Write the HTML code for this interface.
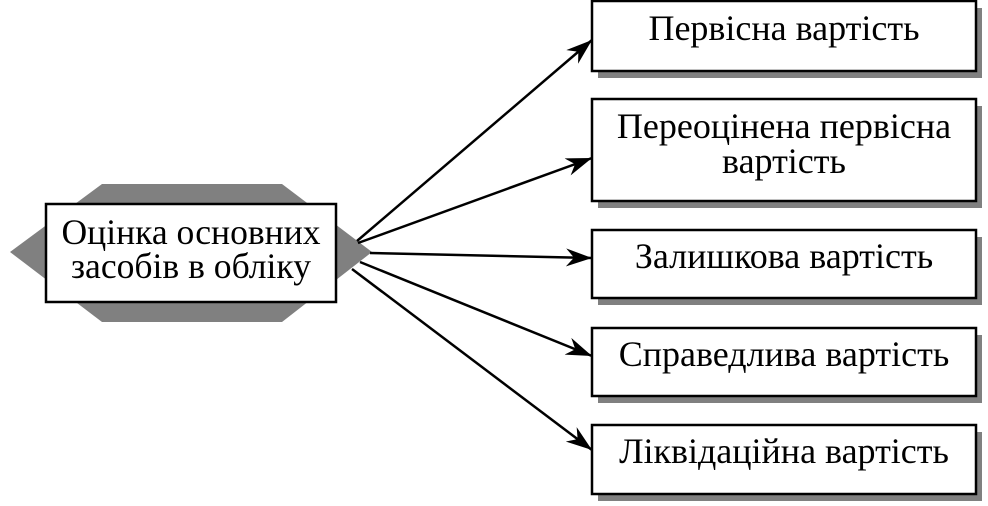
<!DOCTYPE html>
<html>
<head>
<meta charset="utf-8">
<style>
  html, body { margin:0; padding:0; background:#fff; }
  svg { display:block; }
  text { font-family: "Liberation Serif", "DejaVu Serif", serif; font-size:36px; fill:#000; }
  text.l { font-size:35.6px; }
</style>
</head>
<body>
<svg width="988" height="506" viewBox="0 0 988 506" xmlns="http://www.w3.org/2000/svg">
  <defs>
    <marker id="ah" viewBox="0 0 26 18" refX="26" refY="9" markerWidth="26" markerHeight="18" markerUnits="userSpaceOnUse" orient="auto">
      <path d="M0,0 L26,9 L0,18 L8,9 Z" fill="#000"/>
    </marker>
  </defs>

  <!-- hexagon behind left box -->
  <polygon points="10,252 102,184 282,184 372,252 282,322 102,322" fill="#808080"/>

  <!-- left box -->
  <rect x="46" y="204" width="290" height="98" fill="#fff" stroke="#000" stroke-width="2.5"/>
  <text class="l" x="191" y="244" text-anchor="middle">Оцінка основних</text>
  <text class="l" x="191" y="278" text-anchor="middle">засобів в обліку</text>

  <!-- shadows -->
  <g fill="#808080">
    <rect x="598" y="8" width="384" height="70"/>
    <rect x="598" y="106" width="384" height="102"/>
    <rect x="598" y="237" width="384" height="68"/>
    <rect x="598" y="335" width="384" height="68"/>
    <rect x="598" y="432" width="384" height="69"/>
  </g>

  <!-- right boxes -->
  <g fill="#fff" stroke="#000" stroke-width="2.5">
    <rect x="592" y="1" width="384" height="70"/>
    <rect x="592" y="99" width="384" height="102"/>
    <rect x="592" y="230" width="384" height="68"/>
    <rect x="592" y="328" width="384" height="68"/>
    <rect x="592" y="425" width="384" height="69"/>
  </g>

  <text x="784" y="40" text-anchor="middle">Первісна вартість</text>
  <text x="784" y="138" text-anchor="middle">Переоцінена первісна</text>
  <text x="784" y="173" text-anchor="middle">вартість</text>
  <text x="784" y="268" text-anchor="middle">Залишкова вартість</text>
  <text x="784" y="366" text-anchor="middle">Справедлива вартість</text>
  <text x="784" y="463" text-anchor="middle">Ліквідаційна вартість</text>

  <!-- arrows -->
  <g stroke="#000" stroke-width="2.5" fill="none">
    <line x1="357" y1="241" x2="592" y2="40" marker-end="url(#ah)"/>
    <line x1="358" y1="243" x2="592" y2="158" marker-end="url(#ah)"/>
    <line x1="370" y1="253" x2="592" y2="258" marker-end="url(#ah)"/>
    <line x1="360" y1="262" x2="592" y2="356" marker-end="url(#ah)"/>
    <line x1="352" y1="269" x2="592" y2="450" marker-end="url(#ah)"/>
  </g>
</svg>
</body>
</html>
